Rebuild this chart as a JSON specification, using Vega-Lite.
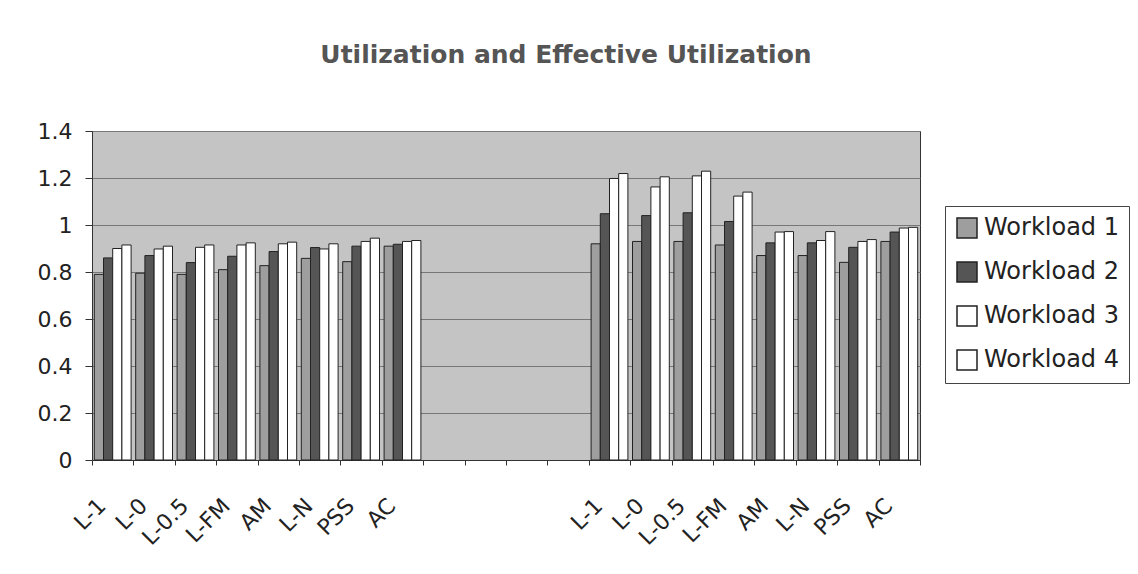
{
  "$schema": "https://vega.github.io/schema/vega-lite/v6.json",
  "autosize": {"type": "none"},
  "width": 828,
  "height": 329,
  "padding": {"left": 92, "top": 131, "right": 218, "bottom": 114},
  "background": "white",
  "title": {
    "text": "Utilization and Effective Utilization",
    "font": "DejaVu Sans",
    "fontSize": 25,
    "fontWeight": "bold",
    "color": "#555555",
    "anchor": "middle",
    "frame": "group",
    "dx": 60,
    "offset": 52
  },
  "config": {
    "view": {"fill": "#c4c4c4", "stroke": "#333333", "strokeWidth": 1},
    "axis": {"labelFont": "DejaVu Sans", "labelColor": "#222222", "domainColor": "#333333", "tickColor": "#333333"}
  },
  "data": {
    "values": [
      {"key": "a|L-1", "workload": "Workload 1", "value": 0.79},
      {"key": "a|L-1", "workload": "Workload 2", "value": 0.86},
      {"key": "a|L-1", "workload": "Workload 3", "value": 0.90},
      {"key": "a|L-1", "workload": "Workload 4", "value": 0.915},
      {"key": "a|L-0", "workload": "Workload 1", "value": 0.795},
      {"key": "a|L-0", "workload": "Workload 2", "value": 0.87},
      {"key": "a|L-0", "workload": "Workload 3", "value": 0.898},
      {"key": "a|L-0", "workload": "Workload 4", "value": 0.91},
      {"key": "a|L-0.5", "workload": "Workload 1", "value": 0.79},
      {"key": "a|L-0.5", "workload": "Workload 2", "value": 0.84},
      {"key": "a|L-0.5", "workload": "Workload 3", "value": 0.905},
      {"key": "a|L-0.5", "workload": "Workload 4", "value": 0.915},
      {"key": "a|L-FM", "workload": "Workload 1", "value": 0.81},
      {"key": "a|L-FM", "workload": "Workload 2", "value": 0.867},
      {"key": "a|L-FM", "workload": "Workload 3", "value": 0.915},
      {"key": "a|L-FM", "workload": "Workload 4", "value": 0.924},
      {"key": "a|AM", "workload": "Workload 1", "value": 0.827},
      {"key": "a|AM", "workload": "Workload 2", "value": 0.887},
      {"key": "a|AM", "workload": "Workload 3", "value": 0.92},
      {"key": "a|AM", "workload": "Workload 4", "value": 0.927},
      {"key": "a|L-N", "workload": "Workload 1", "value": 0.858},
      {"key": "a|L-N", "workload": "Workload 2", "value": 0.904},
      {"key": "a|L-N", "workload": "Workload 3", "value": 0.898},
      {"key": "a|L-N", "workload": "Workload 4", "value": 0.92},
      {"key": "a|PSS", "workload": "Workload 1", "value": 0.844},
      {"key": "a|PSS", "workload": "Workload 2", "value": 0.91},
      {"key": "a|PSS", "workload": "Workload 3", "value": 0.93},
      {"key": "a|PSS", "workload": "Workload 4", "value": 0.944},
      {"key": "a|AC", "workload": "Workload 1", "value": 0.91},
      {"key": "a|AC", "workload": "Workload 2", "value": 0.918},
      {"key": "a|AC", "workload": "Workload 3", "value": 0.93},
      {"key": "a|AC", "workload": "Workload 4", "value": 0.934},
      {"key": "b|L-1", "workload": "Workload 1", "value": 0.92},
      {"key": "b|L-1", "workload": "Workload 2", "value": 1.048},
      {"key": "b|L-1", "workload": "Workload 3", "value": 1.198},
      {"key": "b|L-1", "workload": "Workload 4", "value": 1.219},
      {"key": "b|L-0", "workload": "Workload 1", "value": 0.93},
      {"key": "b|L-0", "workload": "Workload 2", "value": 1.04},
      {"key": "b|L-0", "workload": "Workload 3", "value": 1.162},
      {"key": "b|L-0", "workload": "Workload 4", "value": 1.205},
      {"key": "b|L-0.5", "workload": "Workload 1", "value": 0.93},
      {"key": "b|L-0.5", "workload": "Workload 2", "value": 1.052},
      {"key": "b|L-0.5", "workload": "Workload 3", "value": 1.209},
      {"key": "b|L-0.5", "workload": "Workload 4", "value": 1.229},
      {"key": "b|L-FM", "workload": "Workload 1", "value": 0.915},
      {"key": "b|L-FM", "workload": "Workload 2", "value": 1.015},
      {"key": "b|L-FM", "workload": "Workload 3", "value": 1.123},
      {"key": "b|L-FM", "workload": "Workload 4", "value": 1.14},
      {"key": "b|AM", "workload": "Workload 1", "value": 0.87},
      {"key": "b|AM", "workload": "Workload 2", "value": 0.924},
      {"key": "b|AM", "workload": "Workload 3", "value": 0.97},
      {"key": "b|AM", "workload": "Workload 4", "value": 0.972},
      {"key": "b|L-N", "workload": "Workload 1", "value": 0.87},
      {"key": "b|L-N", "workload": "Workload 2", "value": 0.924},
      {"key": "b|L-N", "workload": "Workload 3", "value": 0.934},
      {"key": "b|L-N", "workload": "Workload 4", "value": 0.972},
      {"key": "b|PSS", "workload": "Workload 1", "value": 0.841},
      {"key": "b|PSS", "workload": "Workload 2", "value": 0.905},
      {"key": "b|PSS", "workload": "Workload 3", "value": 0.93},
      {"key": "b|PSS", "workload": "Workload 4", "value": 0.938},
      {"key": "b|AC", "workload": "Workload 1", "value": 0.93},
      {"key": "b|AC", "workload": "Workload 2", "value": 0.97},
      {"key": "b|AC", "workload": "Workload 3", "value": 0.987},
      {"key": "b|AC", "workload": "Workload 4", "value": 0.99}
    ]
  },
  "mark": {"type": "bar", "stroke": "#222222", "strokeWidth": 1},
  "encoding": {
    "x": {
      "field": "key",
      "type": "nominal",
      "sort": null,
      "scale": {
        "domain": ["a|L-1", "a|L-0", "a|L-0.5", "a|L-FM", "a|AM", "a|L-N", "a|PSS", "a|AC", "gap1", "gap2", "gap3", "gap4", "b|L-1", "b|L-0", "b|L-0.5", "b|L-FM", "b|AM", "b|L-N", "b|PSS", "b|AC"],
        "paddingInner": 0,
        "paddingOuter": 0
      },
      "axis": {
        "title": null,
        "labelExpr": "isString(datum.value) && indexof(datum.value, '|') == 1 ? slice(datum.value, 2) : ''",
        "labelAngle": -45,
        "labelAlign": "right",
        "labelBaseline": "middle",
        "labelFontSize": 22,
        "labelPadding": 37,
        "labelOffset": -11,
        "tickBand": "extent",
        "tickSize": 5,
        "grid": false,
        "labelOverlap": false
      }
    },
    "xOffset": {
      "field": "workload",
      "type": "nominal",
      "scale": {"paddingInner": 0, "paddingOuter": 0.25}
    },
    "y": {
      "field": "value",
      "type": "quantitative",
      "stack": null,
      "scale": {"domain": [0, 1.4], "nice": false},
      "axis": {
        "title": null,
        "tickCount": 7,
        "format": ".1~f",
        "labelFontSize": 22,
        "labelPadding": 13,
        "tickSize": 7,
        "gridColor": "#777777"
      }
    },
    "fill": {
      "field": "workload",
      "type": "nominal",
      "scale": {
        "domain": ["Workload 1", "Workload 2", "Workload 3", "Workload 4"],
        "range": ["#9e9e9e", "#555555", "#ffffff", "#ffffff"]
      },
      "legend": {
        "title": null,
        "orient": "none",
        "legendX": 853,
        "legendY": 75,
        "strokeColor": "#444444",
        "fillColor": "#ffffff",
        "padding": 10,
        "symbolType": "square",
        "symbolSize": 400,
        "symbolStrokeColor": "#222222",
        "labelFont": "DejaVu Sans",
        "labelFontSize": 24,
        "labelColor": "#222222",
        "labelOffset": 5,
        "rowPadding": 18,
        "labelLimit": 300
      }
    }
  }
}
